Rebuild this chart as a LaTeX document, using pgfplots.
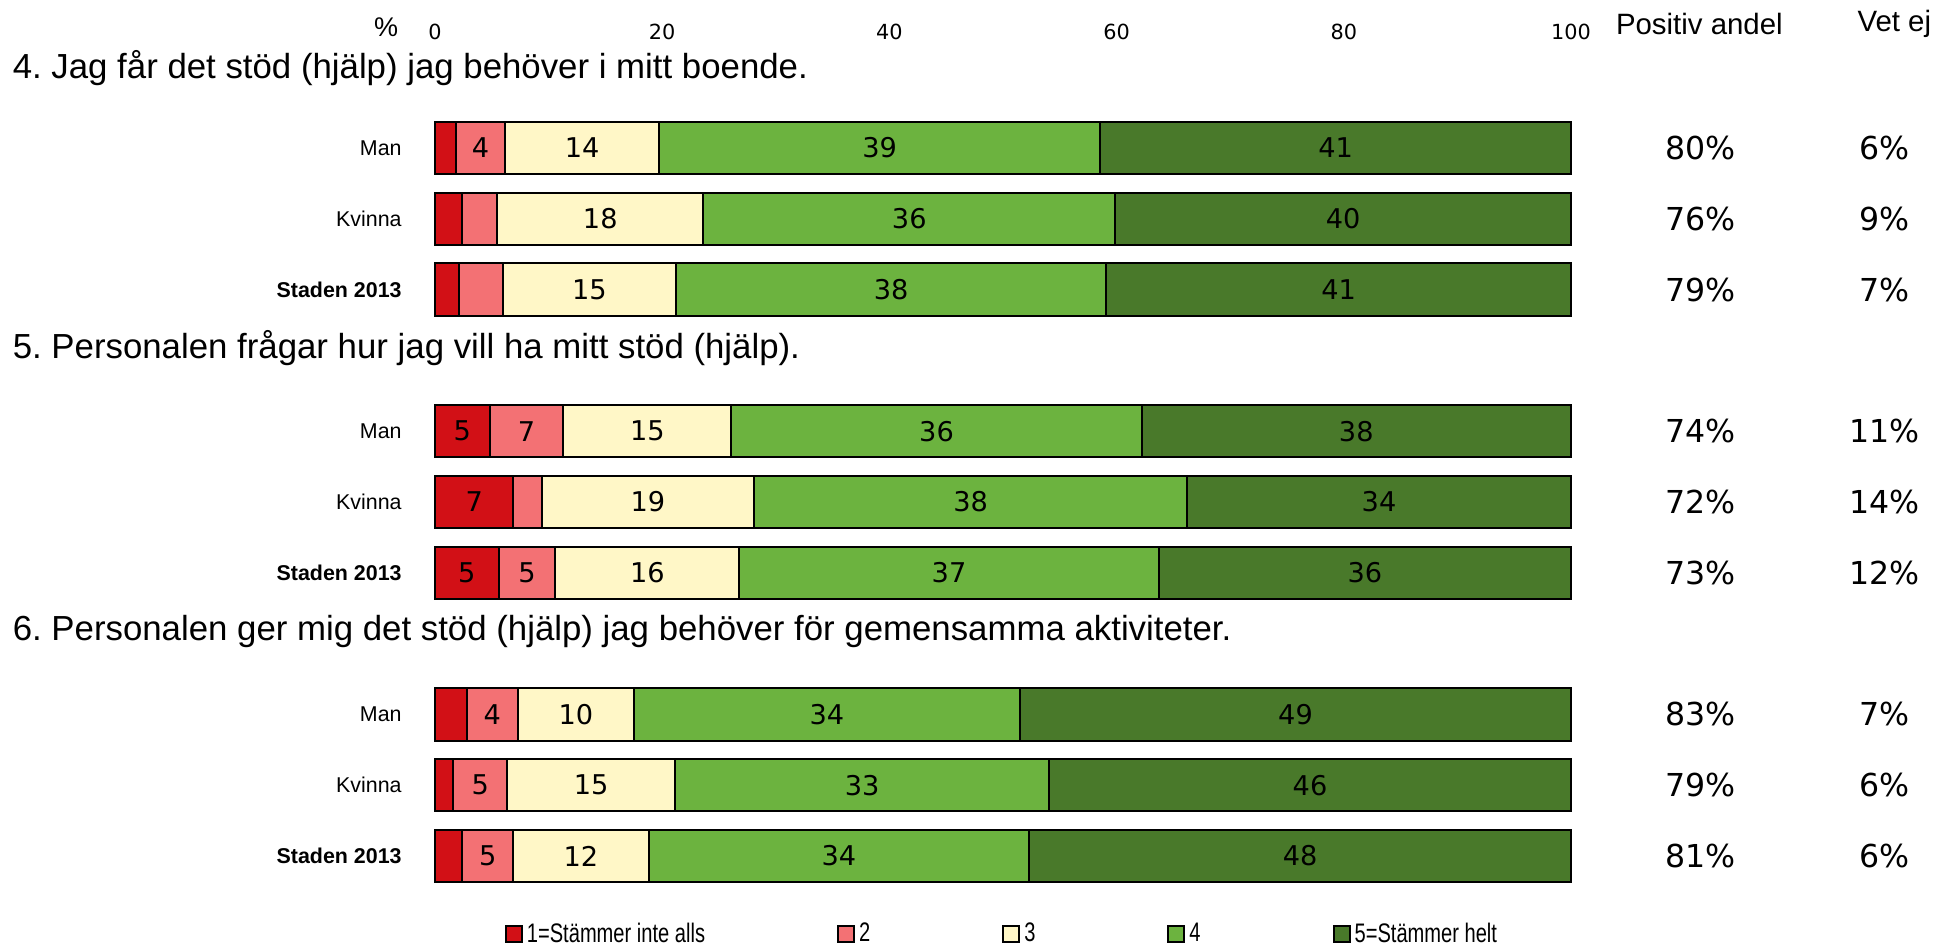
\documentclass[border=0pt]{standalone}
\usepackage{fontspec}
\setmainfont{Liberation Sans}
\newfontfamily\dejavu{DejaVu Sans}
\newfontfamily\narrowfont{Liberation Sans}[FakeStretch=0.75]
\usepackage{pgfplots}
\usepackage{pgfplotstable}
\pgfplotsset{compat=1.18}
\frenchspacing
\definecolor{c1}{HTML}{D21016}
\definecolor{c2}{HTML}{F37174}
\definecolor{c3}{HTML}{FFF7C7}
\definecolor{c4}{HTML}{6CB33F}
\definecolor{c5}{HTML}{49792A}
\pgfplotstableread{
y v1 v2 v3 v4 v5
0 1.85 4.3 13.6 38.8 41.45
-1 2.4 3.1 18.1 36.3 40.1
-2 2.1 3.9 15.2 37.9 40.9
-4 4.8 6.5 14.8 36.1 37.8
-5 6.9 2.5 18.7 38.1 33.8
-6 5.6 5.0 16.2 36.9 36.3
-8 2.8 4.5 10.2 34.0 48.5
-9 1.6 4.75 14.8 32.9 45.95
-10 2.4 4.5 11.9 33.5 47.7
}\data
% label positions (segment centres) and texts
\pgfplotstableread{
x y lab
4.0 0 4
12.95 0 14
39.15 0 39
79.275 0 41
14.55 -1 18
41.75 -1 36
79.95 -1 40
13.6 -2 15
40.15 -2 38
79.55 -2 41
2.4 -4 5
8.05 -4 7
18.7 -4 15
44.15 -4 36
81.1 -4 38
3.45 -5 7
18.75 -5 19
47.15 -5 38
83.1 -5 34
2.8 -6 5
8.1 -6 5
18.7 -6 16
45.25 -6 37
81.85 -6 36
5.05 -8 4
12.4 -8 10
34.5 -8 34
75.75 -8 49
3.975 -9 5
13.75 -9 15
37.6 -9 33
77.025 -9 46
4.65 -10 5
12.85 -10 12
35.55 -10 34
76.15 -10 48
}\labels
\begin{document}
\begin{tikzpicture}
\begin{axis}[
  name=ax,
  scale only axis, width=568pt, height=424.8pt,
  xmin=0, xmax=100, ymin=-10.5, ymax=1.5,
  clip=false,
  xbar stacked, bar width=0.74,
  axis line style={draw=none},
  major tick style={draw=none},
  xtick={0,20,40,60,80,100},
  xticklabel pos=right,
  xticklabel style={font=\dejavu\fontsize{10.4}{12}\selectfont, anchor=south, inner sep=0pt, yshift=0.6pt},
  /pgf/number format/assume math mode=true,
  ytick={-10,-9,-8,-6,-5,-4,-2,-1,0},
  yticklabels={\textbf{Staden 2013},Kvinna,Man,\textbf{Staden 2013},Kvinna,Man,\textbf{Staden 2013},Kvinna,Man},
  yticklabel style={font=\fontsize{10.7}{12}\selectfont, anchor=east, inner sep=0pt, xshift=-16.5pt},
  legend columns=5,
  legend style={at={(0.5,-0.0501)}, anchor=center, draw=none, font=\narrowfont\fontsize{13.4}{15}\selectfont,
    /tikz/every even column/.append style={column sep=64pt}},
  legend image code/.code={\draw[#1] (0pt,-4pt) rectangle (8pt,4pt);},
]
\addplot[fill=c1, draw=black, line width=1pt] table[x=v1, y=y] {\data};
\addplot[fill=c2, draw=black, line width=1pt] table[x=v2, y=y] {\data};
\addplot[fill=c3, draw=black, line width=1pt] table[x=v3, y=y] {\data};
\addplot[fill=c4, draw=black, line width=1pt] table[x=v4, y=y] {\data};
\addplot[fill=c5, draw=black, line width=1pt] table[x=v5, y=y] {\data};
\legend{1=Stämmer inte alls, 2, 3, 4, 5=Stämmer helt}
% titles
\node[anchor=west, inner sep=0pt, font=\fontsize{17.4}{20}\selectfont] at (axis cs:-37.2,1.13) {4. Jag får det stöd (hjälp) jag behöver i mitt boende.};
\node[anchor=west, inner sep=0pt, font=\fontsize{17.4}{20}\selectfont] at (axis cs:-37.2,-2.82) {5. Personalen frågar hur jag vill ha mitt stöd (hjälp).};
\node[anchor=west, inner sep=0pt, font=\fontsize{17.4}{20}\selectfont] at (axis cs:-37.2,-6.83) {6. Personalen ger mig det stöd (hjälp) jag behöver för gemensamma aktiviteter.};
% headers
\node[font=\fontsize{13.5}{15}\selectfont] at (axis cs:-4.3,1.71) {\%};
\node[font=\fontsize{14.7}{17}\selectfont] at (axis cs:111.3,1.75) {Positiv andel};
\node[anchor=west, font=\fontsize{14.7}{17}\selectfont] at (axis cs:124.6,1.75) {Vet ej};
% right columns
\node[font=\dejavu\fontsize{15.8}{18}\selectfont] at (axis cs:111.4,0) {80\%};
\node[font=\dejavu\fontsize{15.8}{18}\selectfont] at (axis cs:127.6,0) {6\%};
\node[font=\dejavu\fontsize{15.8}{18}\selectfont] at (axis cs:111.4,-1) {76\%};
\node[font=\dejavu\fontsize{15.8}{18}\selectfont] at (axis cs:127.6,-1) {9\%};
\node[font=\dejavu\fontsize{15.8}{18}\selectfont] at (axis cs:111.4,-2) {79\%};
\node[font=\dejavu\fontsize{15.8}{18}\selectfont] at (axis cs:127.6,-2) {7\%};
\node[font=\dejavu\fontsize{15.8}{18}\selectfont] at (axis cs:111.4,-4) {74\%};
\node[font=\dejavu\fontsize{15.8}{18}\selectfont] at (axis cs:127.6,-4) {11\%};
\node[font=\dejavu\fontsize{15.8}{18}\selectfont] at (axis cs:111.4,-5) {72\%};
\node[font=\dejavu\fontsize{15.8}{18}\selectfont] at (axis cs:127.6,-5) {14\%};
\node[font=\dejavu\fontsize{15.8}{18}\selectfont] at (axis cs:111.4,-6) {73\%};
\node[font=\dejavu\fontsize{15.8}{18}\selectfont] at (axis cs:127.6,-6) {12\%};
\node[font=\dejavu\fontsize{15.8}{18}\selectfont] at (axis cs:111.4,-8) {83\%};
\node[font=\dejavu\fontsize{15.8}{18}\selectfont] at (axis cs:127.6,-8) {7\%};
\node[font=\dejavu\fontsize{15.8}{18}\selectfont] at (axis cs:111.4,-9) {79\%};
\node[font=\dejavu\fontsize{15.8}{18}\selectfont] at (axis cs:127.6,-9) {6\%};
\node[font=\dejavu\fontsize{15.8}{18}\selectfont] at (axis cs:111.4,-10) {81\%};
\node[font=\dejavu\fontsize{15.8}{18}\selectfont] at (axis cs:127.6,-10) {6\%};
\end{axis}
\begin{axis}[
  scale only axis, width=568pt, height=424.8pt,
  xmin=0, xmax=100, ymin=-10.5, ymax=1.5,
  clip=false, hide axis,
]
\addplot[draw=none, mark=none, nodes near coords, point meta=explicit symbolic,
  every node near coord/.append style={anchor=center, text=black, font=\dejavu\fontsize{13.6}{15}\selectfont}]
  table[x=x, y=y, meta=lab] {\labels};
\end{axis}
\pgfresetboundingbox
\path[use as bounding box] ([shift={(-217.5pt,-26.8pt)}]ax.south west) rectangle ([shift={(749pt,445.7pt)}]ax.south west);
\end{tikzpicture}
\end{document}
